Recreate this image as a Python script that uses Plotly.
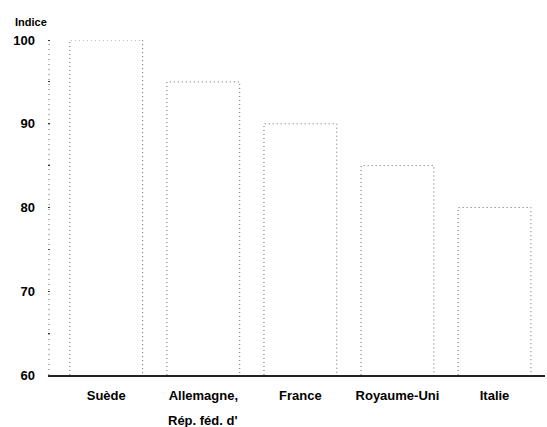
import plotly.graph_objects as go

# Indice par pays
pays = ["Suède", "Allemagne,", "France", "Royaume-Uni", "Italie"]
sous_titre = ["", "Rép. féd. d'", "", "", ""]
indice = [100, 95, 90, 85, 80]
y_ticks = [60, 70, 80, 90, 100]

base = 60
largeur = 0.75
xs = list(range(len(pays)))

fig = go.Figure()

# white bar bodies
fig.add_trace(go.Bar(
    x=xs, y=[v - base for v in indice], base=base, width=largeur,
    marker=dict(color="white", line=dict(width=0)),
    hoverinfo="skip", showlegend=False,
))

# dotted bar outlines derived from the same values
for i, v in zip(xs, indice):
    g, d = i - largeur / 2, i + largeur / 2
    fig.add_trace(go.Scatter(
        x=[g, g, d, d], y=[base, v, v, base], mode="lines",
        line=dict(color="#666666", width=1, dash="1px,3px"),
        hoverinfo="skip", showlegend=False,
    ))

police = dict(family="Liberation Sans, Arial, sans-serif", color="black")

fig.update_layout(
    width=547, height=427,
    margin=dict(l=48, r=2, t=40, b=52),
    paper_bgcolor="white", plot_bgcolor="white",
    xaxis=dict(
        range=[-0.6, 4.52], tickmode="array", tickvals=xs, ticktext=pays,
        tickfont=dict(size=13, weight="bold", **police),
        showgrid=False, zeroline=False, showline=True,
        linecolor="#222222", linewidth=1.5, ticks="", ticklabelstandoff=8,
    ),
    yaxis=dict(
        range=[base, 100], tickmode="array", tickvals=y_ticks,
        tickfont=dict(size=13, weight="bold", **police),
        showgrid=False, zeroline=False, showline=False,
        ticks="", ticklabelstandoff=12,
        minor=dict(dtick=5, ticks="inside", ticklen=2, tickcolor="#333333"),
    ),
    shapes=[dict(type="line", xref="paper", yref="y", x0=0.002, x1=0.002,
                 y0=base, y1=100, line=dict(color="#666666", width=1, dash="1px,4px"))],
    annotations=[
        dict(text="Indice", xref="paper", yref="paper", x=-0.07, y=1.0,
             xanchor="left", yanchor="bottom", yshift=10, showarrow=False,
             font=dict(size=11, weight="bold", **police)),
    ] + [
        dict(text=s, x=i, xref="x", yref="paper", y=0, yanchor="top",
             yshift=-36, showarrow=False,
             font=dict(size=13, weight="bold", **police))
        for i, s in zip(xs, sous_titre) if s
    ],
)

fig.write_html("out.html")
